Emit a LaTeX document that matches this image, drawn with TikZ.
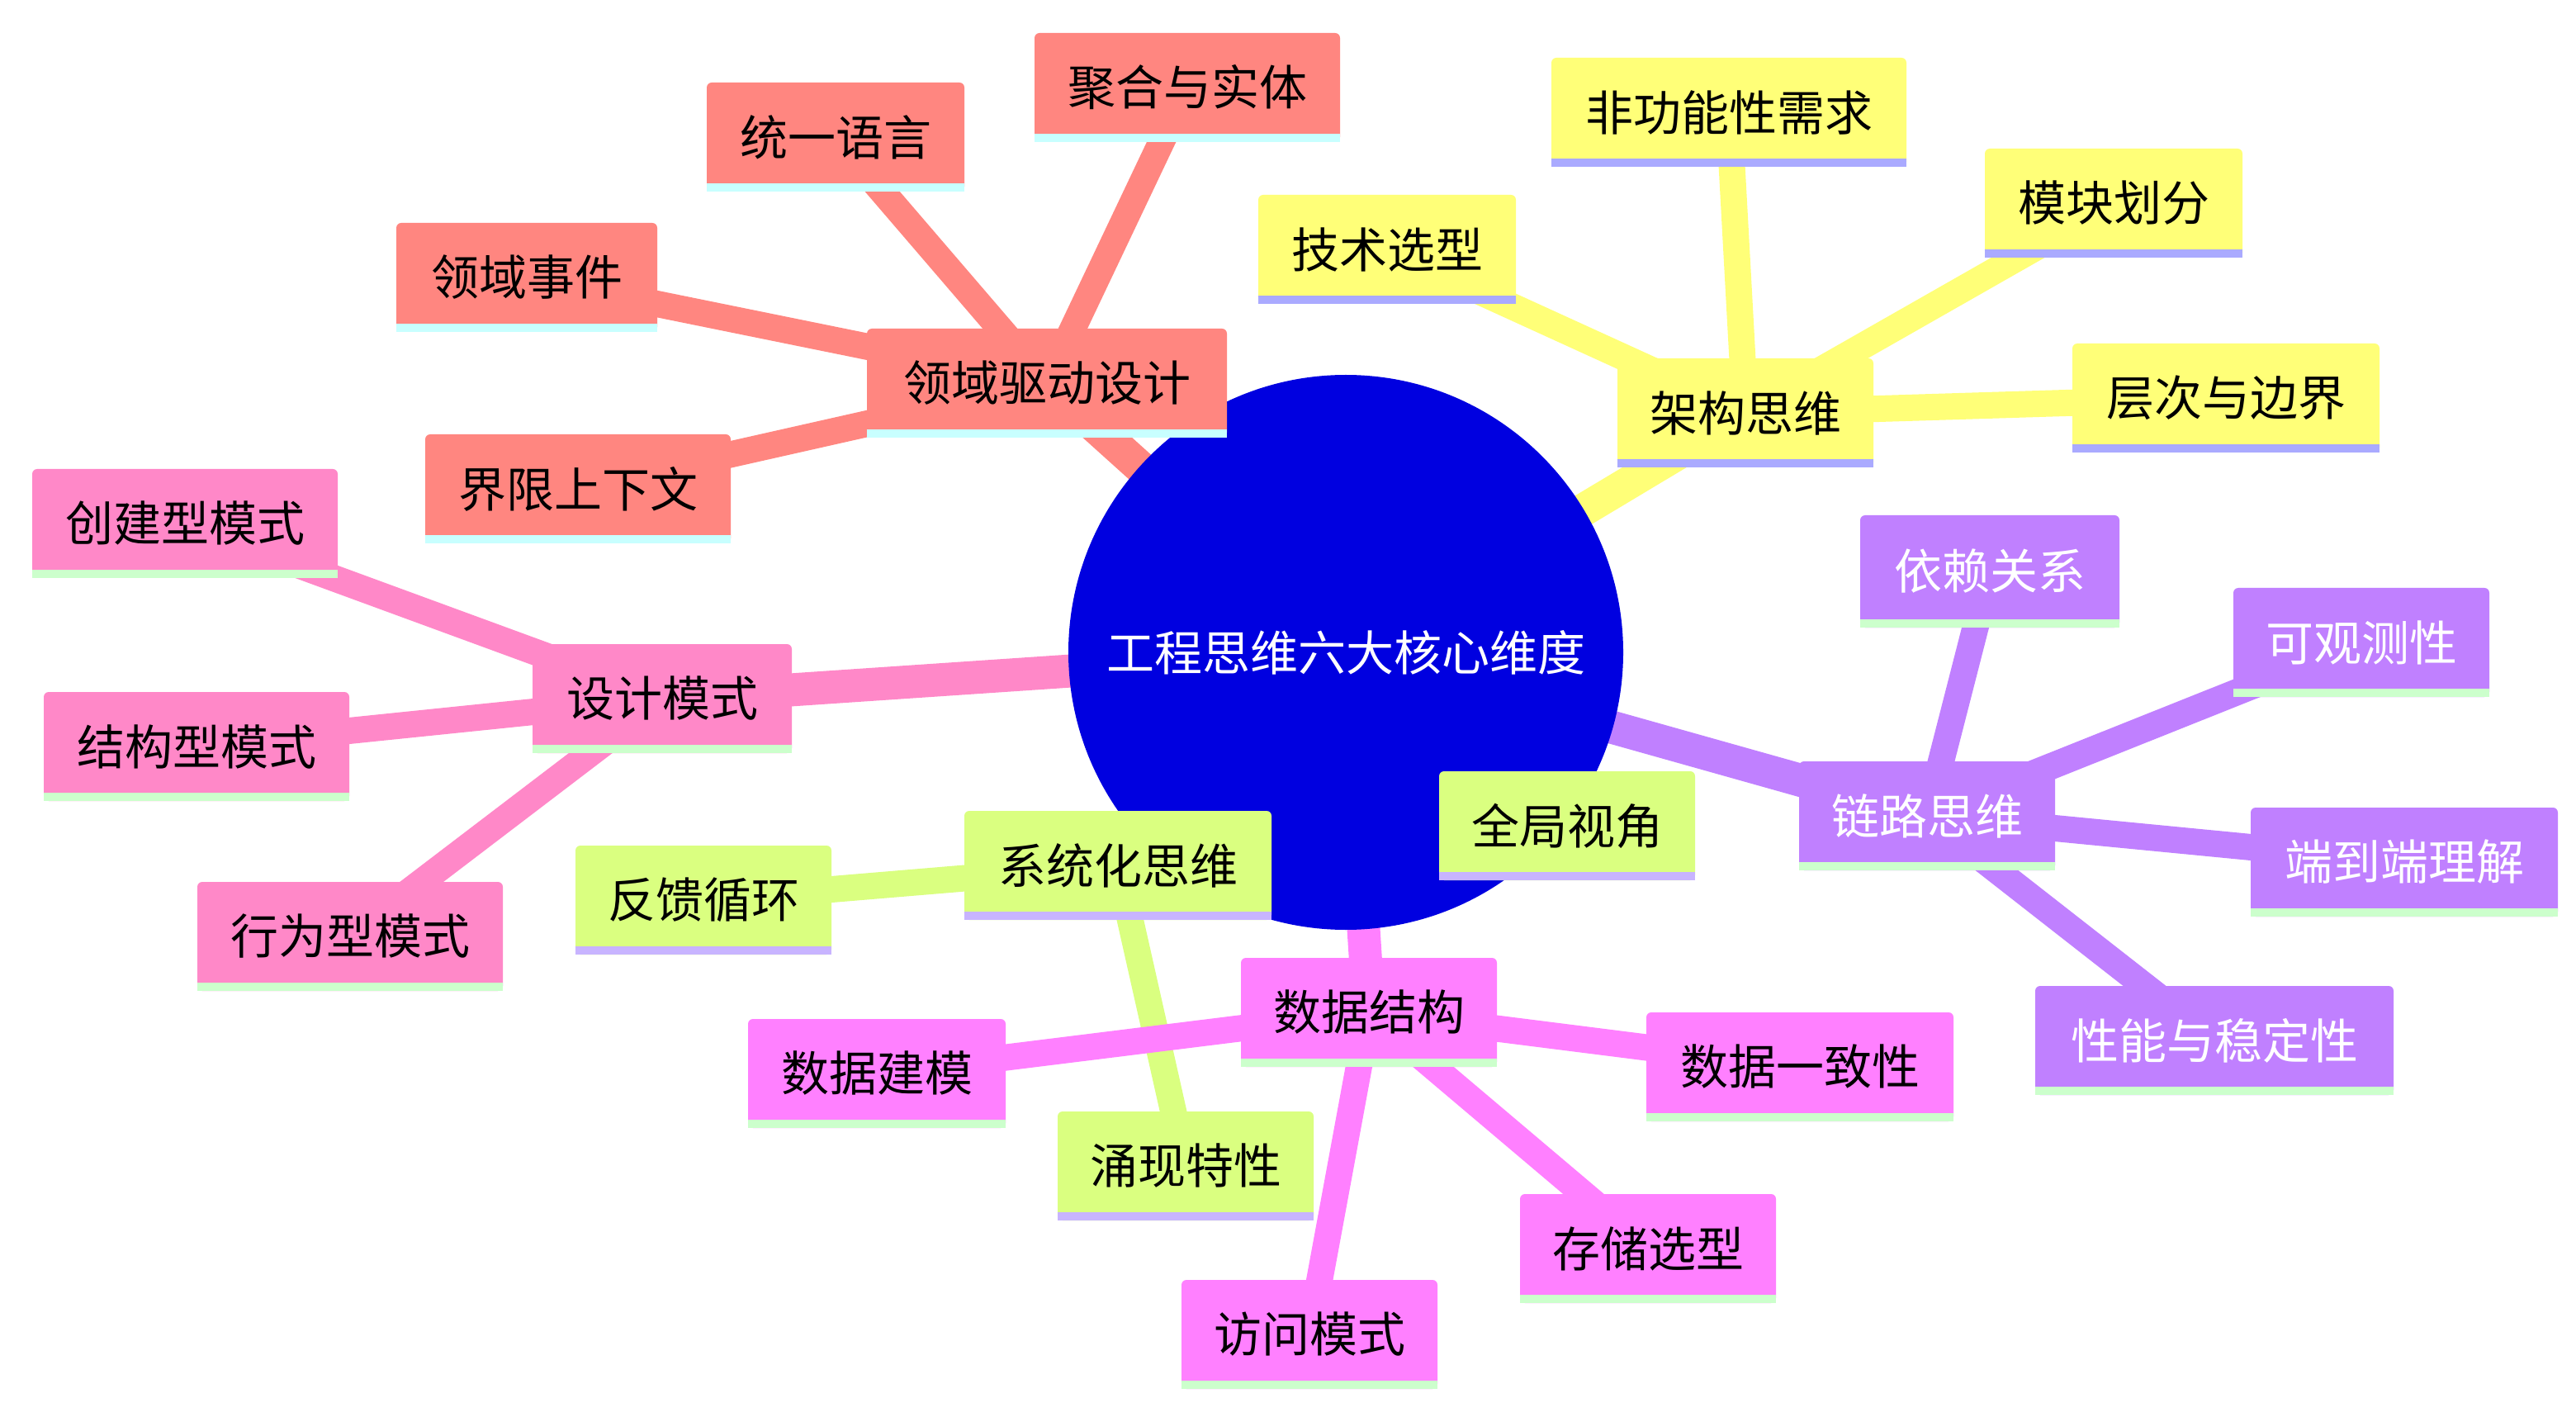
\documentclass[tikz,border=0pt]{standalone}
\usepackage{fontspec}
\setmainfont{Noto Sans CJK SC}
\usetikzlibrary{backgrounds}
\definecolor{cRed}{HTML}{FF8680}
\definecolor{cYel}{HTML}{FFFF78}
\definecolor{cPur}{HTML}{C080FF}
\definecolor{cLim}{HTML}{DAFF80}
\definecolor{cMag}{HTML}{FF80FF}
\definecolor{cPnk}{HTML}{FF88C8}
\definecolor{uCyan}{HTML}{C8FFFF}
\definecolor{uLav}{HTML}{AAAAFF}
\definecolor{uGrn}{HTML}{CCFFCC}
\definecolor{uLil}{HTML}{C8B4FF}
\definecolor{cRoot}{HTML}{0000E0}
\tikzset{
 box/.style={rectangle, rounded corners=3pt, inner sep=0pt, font=\fontsize{29}{32}\selectfont},
 lk/.style={line width=#1, line cap=round},
}
% name, cx, cy, w, h, fill, underline, textcolor, text
\newcommand\bx[9]{%
 \node[box, fill=#6, text=#8, minimum width=#4pt, minimum height=#5pt] (#1) at (#2,#3) {#9};
 \draw[#7, line width=5pt] ([yshift=2.5pt]#1.south west) -- ([yshift=2.5pt]#1.south east);
}
\begin{document}
\begin{tikzpicture}[x=1pt,y=-1pt]
\useasboundingbox (0,0) rectangle (1560,858);
\node[circle, fill=cRoot, minimum size=336pt, inner sep=0pt, text=white, font=\fontsize{29}{32}\selectfont] (root) at (815,395) {工程思维六大核心维度};
% DDD
\bx{ddd}{634}{232}{218}{66}{cRed}{uCyan}{black}{领域驱动设计}
\bx{d1}{719}{53}{185}{66}{cRed}{uCyan}{black}{聚合与实体}
\bx{d2}{506}{83}{156}{66}{cRed}{uCyan}{black}{统一语言}
\bx{d3}{319}{168}{158}{66}{cRed}{uCyan}{black}{领域事件}
\bx{d4}{350}{296}{185}{66}{cRed}{uCyan}{black}{界限上下文}
% Architecture
\bx{arc}{1057}{250}{155}{66}{cYel}{uLav}{black}{架构思维}
\bx{a1}{1047}{68}{215}{66}{cYel}{uLav}{black}{非功能性需求}
\bx{a2}{1280}{123}{156}{66}{cYel}{uLav}{black}{模块划分}
\bx{a3}{840}{151}{156}{66}{cYel}{uLav}{black}{技术选型}
\bx{a4}{1348}{241}{186}{66}{cYel}{uLav}{black}{层次与边界}
% Chain
\bx{chn}{1167}{494}{155}{66}{cPur}{uGrn}{white}{链路思维}
\bx{c1}{1205}{346}{157}{68}{cPur}{uGrn}{white}{依赖关系}
\bx{c2}{1430}{389}{155}{66}{cPur}{uGrn}{white}{可观测性}
\bx{c3}{1456}{522}{186}{66}{cPur}{uGrn}{white}{端到端理解}
\bx{c4}{1341}{630}{217}{66}{cPur}{uGrn}{white}{性能与稳定性}
% System
\bx{sys}{677}{524}{186}{66}{cLim}{uLil}{black}{系统化思维}
\bx{s1}{949}{500}{155}{66}{cLim}{uLil}{black}{全局视角}
\bx{s2}{426}{545}{155}{66}{cLim}{uLil}{black}{反馈循环}
\bx{s3}{718}{706}{155}{66}{cLim}{uLil}{black}{涌现特性}
% Data
\bx{dat}{829}{613}{155}{66}{cMag}{uGrn}{black}{数据结构}
\bx{t1}{531}{650}{156}{66}{cMag}{uGrn}{black}{数据建模}
\bx{t2}{1090}{646}{186}{66}{cMag}{uGrn}{black}{数据一致性}
\bx{t3}{998}{756}{155}{66}{cMag}{uGrn}{black}{存储选型}
\bx{t4}{793}{808}{155}{66}{cMag}{uGrn}{black}{访问模式}
% Design patterns
\bx{pat}{401}{423}{157}{66}{cPnk}{uGrn}{black}{设计模式}
\bx{p1}{112}{317}{185}{66}{cPnk}{uGrn}{black}{创建型模式}
\bx{p2}{119}{452}{185}{66}{cPnk}{uGrn}{black}{结构型模式}
\bx{p3}{212}{567}{185}{66}{cPnk}{uGrn}{black}{行为型模式}
\begin{pgfonlayer}{background}
\fill[white] (0,0) rectangle (1560,858);
\draw[cRed, lk=20pt] (root.center) -- (ddd.center);
\foreach \n in {d1,d2,d3,d4} \draw[cRed, lk=16pt] (ddd.center) -- (\n.center);
\draw[cYel, lk=20pt] (root.center) -- (arc.center);
\foreach \n in {a1,a2,a3,a4} \draw[cYel, lk=16pt] (arc.center) -- (\n.center);
\draw[cPur, lk=20pt] (root.center) -- (chn.center);
\foreach \n in {c1,c2,c3,c4} \draw[cPur, lk=16pt] (chn.center) -- (\n.center);
\draw[cLim, lk=20pt] (root.center) -- (sys.center);
\foreach \n in {s1,s2,s3} \draw[cLim, lk=16pt] (sys.center) -- (\n.center);
\draw[cMag, lk=20pt] (root.center) -- (dat.center);
\foreach \n in {t1,t2,t3,t4} \draw[cMag, lk=16pt] (dat.center) -- (\n.center);
\draw[cPnk, lk=20pt] (root.center) -- (pat.center);
\foreach \n in {p1,p2,p3} \draw[cPnk, lk=16pt] (pat.center) -- (\n.center);
\end{pgfonlayer}
\end{tikzpicture}
\end{document}
